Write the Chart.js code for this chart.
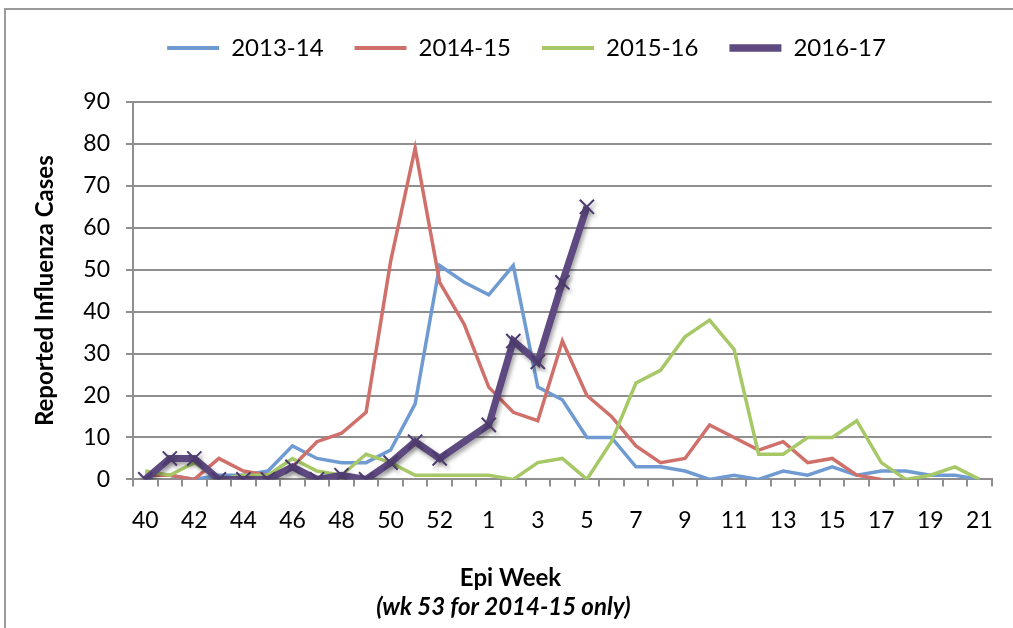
<!DOCTYPE html>
<html>
<head>
<meta charset="utf-8">
<script src="https://cdn.jsdelivr.net/npm/chart.js@4.4.1/dist/chart.umd.min.js"></script>
<style>
  html, body { margin: 0; padding: 0; background: #fff; overflow: hidden; }
  #frame { position: absolute; left: 4px; top: 8px; width: 2000px; height: 2000px;
           border-left: 2px solid #9a9a9a; border-top: 2px solid #9a9a9a; }
  #c { position: absolute; left: 0; top: 0; }
</style>
</head>
<body>
<div id="frame"></div>
<canvas id="c" width="1013" height="628"></canvas>
<script>
// Epi week categories (week 53 only exists for 2014-15)
const weeks = ['40','41','42','43','44','45','46','47','48','49','50','51','52','53',
  '1','2','3','4','5','6','7','8','9','10','11','12','13','14','15','16','17','18','19','20','21'];

const seriesNames = ['2013-14', '2014-15', '2015-16', '2016-17'];

const cases2013_14 = [1,1,0,1,1,2,8,5,4,4,7,18,51,47,
  44,51,22,19,10,10,3,3,2,0,1,0,2,1,3,1,2,2,1,1,0];

const cases2014_15 = [1,1,0,5,2,1,3,9,11,16,52,79,47,37,
  22,16,14,33,20,15,8,4,5,13,10,7,9,4,5,1,0,null,null,null,null];

const cases2015_16 = [2,1,4,0,1,1,5,2,1,6,4,1,1,1,
  1,0,4,5,0,9,23,26,34,38,31,6,6,10,10,14,4,0,1,3,0];

const cases2016_17 = [0,5,5,0,0,0,3,0,1,0,4,9,5,null,
  13,33,28,47,65,null,null,null,null,null,null,null,null,null,null,null,null,null,null,null,null];

const yTicks = { min: 0, max: 90, step: 10 };

const xTitle = 'Epi Week';
const xNote = '(wk 53 for 2014-15 only)';
const yTitle = 'Reported Influenza Cases';

const FONT = 'Lato, "Open Sans", "Liberation Sans", sans-serif';
const GRID = '#8f8f8f';

const purpleShadow = {
  id: 'purpleShadow',
  beforeDatasetDraw(chart, args) {
    if (args.index === 3) {
      const ctx = chart.ctx;
      ctx.save();
      ctx.shadowColor = 'rgba(0,0,0,0.35)';
      ctx.shadowBlur = 4;
      ctx.shadowOffsetX = 2;
      ctx.shadowOffsetY = 3;
    }
  },
  afterDatasetDraw(chart, args) {
    if (args.index === 3) chart.ctx.restore();
  }
};

const nudge = {
  id: 'nudge',
  afterLayout(chart) {
    const lg = chart.legend;
    if (lg) { lg.left += 28; lg.right += 28; lg.top -= 32; lg.bottom -= 32; }
    const tb = chart.titleBlock;
    if (tb) { tb.left += 12; tb.right += 12; }
    chart.boxes.forEach(b => {
      if (b !== tb && b.options && b.options.text === xNote) { b.left += 5; b.right += 5; }
    });
  }
};

new Chart(document.getElementById('c'), {
  type: 'line',
  data: {
    labels: weeks,
    datasets: [
      { label: seriesNames[0], data: cases2013_14, borderColor: '#6f9bd2', backgroundColor: '#6f9bd2',
        borderWidth: 3.5, pointRadius: 0, tension: 0, order: 4 },
      { label: seriesNames[1], data: cases2014_15, borderColor: '#d0706b', backgroundColor: '#d0706b',
        borderWidth: 3.5, pointRadius: 0, tension: 0, order: 3 },
      { label: seriesNames[2], data: cases2015_16, borderColor: '#a7c866', backgroundColor: '#a7c866',
        borderWidth: 3.5, pointRadius: 0, tension: 0, order: 2 },
      { label: seriesNames[3], data: cases2016_17, borderColor: '#5e4a80', backgroundColor: '#5e4a80',
        borderWidth: 7, tension: 0, order: 1, spanGaps: true,
        pointStyle: 'crossRot', pointRadius: 10, pointBorderWidth: 2,
        pointBorderColor: '#4d3a6e', pointBackgroundColor: '#4d3a6e' }
    ]
  },
  options: {
    responsive: false,
    animation: false,
    devicePixelRatio: 1,
    layout: { padding: { top: 37, left: 0, right: 16, bottom: 0 } },
    plugins: {
      tooltip: { enabled: false },
      legend: {
        position: 'top',
        labels: {
          usePointStyle: true,
          pointStyle: 'line',
          pointStyleWidth: 52,
          padding: 31,
          color: '#000',
          font: { family: FONT, size: 24 },
          sort: (a, b) => a.datasetIndex - b.datasetIndex,
          generateLabels: (chart) => {
            const items = Chart.defaults.plugins.legend.labels.generateLabels(chart);
            items.forEach(it => {
              const ds = chart.data.datasets[it.datasetIndex];
              it.lineWidth = ds.borderWidth + 0.5;
              it.strokeStyle = ds.borderColor;
              it.pointStyle = 'line';
            });
            return items;
          }
        }
      },
      title: {
        display: true,
        position: 'bottom',
        weight: 1000,
        text: xTitle,
        color: '#000',
        font: { family: FONT, size: 24, weight: 'bold' },
        padding: { top: 0, bottom: 1 }
      },
      subtitle: {
        display: true,
        position: 'bottom',
        text: xNote,
        color: '#000',
        font: { family: FONT, size: 24, weight: 'bold', style: 'italic' },
        padding: { top: 0, bottom: 6 }
      }
    },
    scales: {
      x: {
        offset: true,
        afterFit: (s) => { s.height = 84; },
        grid: { offset: true, drawOnChartArea: false, drawTicks: true, tickLength: 7, color: GRID, lineWidth: 2 },
        border: { display: true, color: GRID, width: 2 },
        ticks: {
          autoSkip: false, maxRotation: 0, padding: 20, color: '#000',
          font: { family: FONT, size: 23 },
          callback: function (value, index) { return index % 2 === 0 ? this.getLabelForValue(value) : ''; }
        }
      },
      y: {
        min: yTicks.min, max: yTicks.max,
        afterFit: (s) => { s.width = 133; },
        grid: { color: GRID, lineWidth: 2, drawTicks: true, tickLength: 7 },
        border: { display: true, color: GRID, width: 2 },
        ticks: { stepSize: yTicks.step, padding: 16, color: '#000', font: { family: FONT, size: 23 } },
        title: {
          display: true, text: yTitle, color: '#000',
          font: { family: FONT, size: 24, weight: 'bold' },
          padding: { top: 31, bottom: 0 }
        }
      }
    }
  },
  plugins: [purpleShadow, nudge]
});
</script>
</body>
</html>
